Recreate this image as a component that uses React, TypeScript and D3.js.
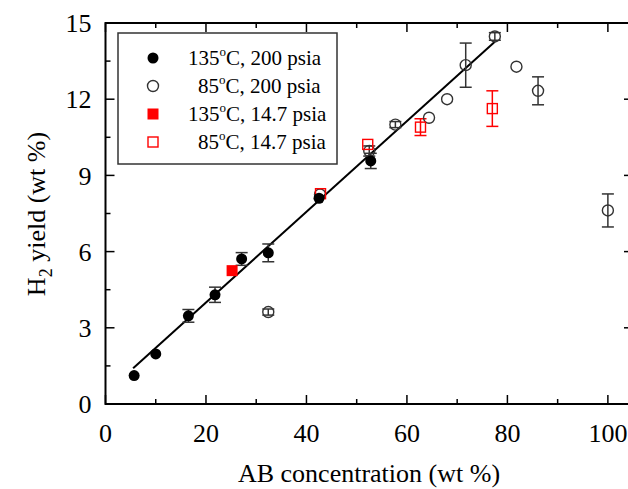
import React from "react";
import * as d3 from "d3";

// 135 C, 200 psia (filled black circles)
const hotHighX = [5.7, 10, 16.5, 21.8, 27.1, 32.4, 42.5, 52.8];
const hotHighY = [1.12, 1.97, 3.47, 4.3, 5.71, 5.95, 8.1, 9.57];
const hotHighErr = [0, 0, 0.25, 0.3, 0.25, 0.35, 0, 0.3];

// 85 C, 200 psia (open black circles)
const coldHighX = [32.4, 42.7, 52.5, 57.7, 64.4, 68, 71.7, 77.5, 81.8, 86.1, 100];
const coldHighY = [3.62, 8.25, 9.96, 11.0, 11.27, 12.0, 13.34, 14.47, 13.28, 12.33, 7.62];
const coldHighErr = [0.12, 0, 0.2, 0.12, 0, 0, 0.87, 0.15, 0, 0.55, 0.65];

// 135 C, 14.7 psia (filled red square)
const hotLowX = [25.2];
const hotLowY = [5.25];

// 85 C, 14.7 psia (open red squares)
const coldLowX = [42.8, 52.2, 62.7, 77];
const coldLowY = [8.28, 10.22, 10.9, 11.63];
const coldLowErr = [0, 0, 0.33, 0.7];

// linear fit
const fitX = [5.5, 77.5];
const fitY = [1.41, 14.26];

const xMajor = [0, 20, 40, 60, 80, 100];
const xMinor = [10, 30, 50, 70, 90];
const yMajor = [0, 3, 6, 9, 12, 15];
const yMinor = [1.5, 4.5, 7.5, 10.5, 13.5];

const legendRows = [
  { t: "135", rest: "C, 200 psia", kind: "fc" },
  { t: "85", rest: "C, 200 psia", kind: "oc" },
  { t: "135", rest: "C, 14.7 psia", kind: "fs" },
  { t: "85", rest: "C, 14.7 psia", kind: "os" },
];

const W = 628;
const H = 489;
const font = "Liberation Serif, DejaVu Serif, serif";
const grey = "#333";

const x = d3.scaleLinear().domain([0, 105]).range([105.5, 633]);
const y = d3.scaleLinear().domain([0, 15]).range([404, 23]);

function ErrBar({ cx, cy, e, color }: { cx: number; cy: number; e: number; color: string }) {
  if (!e) return null;
  const top = y(cy + e);
  const bot = y(cy - e);
  const px = x(cx);
  return (
    <g stroke={color} strokeWidth={1.5}>
      <line x1={px} x2={px} y1={top} y2={bot} />
      <line x1={px - 6} x2={px + 6} y1={top} y2={top} />
      <line x1={px - 6} x2={px + 6} y1={bot} y2={bot} />
    </g>
  );
}

function Marker({ kind, px, py }: { kind: string; px: number; py: number }) {
  if (kind === "fc") return <circle cx={px} cy={py} r={5.5} fill="#000" />;
  if (kind === "oc")
    return <circle cx={px} cy={py} r={5.5} fill="none" stroke={grey} strokeWidth={1.4} />;
  if (kind === "fs") return <rect x={px - 5.5} y={py - 5.5} width={11} height={11} fill="#f00" />;
  return (
    <rect x={px - 5} y={py - 5} width={10} height={10} fill="none" stroke="#f00" strokeWidth={1.4} />
  );
}

export default function App() {
  const line = d3
    .line<number>()
    .x((d) => x(d))
    .y((_, i) => y(fitY[i]));

  const ts = { fontFamily: font };

  return (
    <svg
      width={W}
      height={H}
      style={{ position: "absolute", left: 0, top: 0, background: "#fff" }}
    >
      {/* frame */}
      <rect x={x(0)} y={y(15)} width={x(105) - x(0)} height={y(0) - y(15)} fill="none" stroke="#000" strokeWidth={2} />

      {/* ticks */}
      <g stroke="#000" strokeWidth={1.5}>
        {xMajor.map((v) => (
          <g key={"xm" + v}>
            <line x1={x(v)} x2={x(v)} y1={y(0)} y2={y(0) - 9} />
            <line x1={x(v)} x2={x(v)} y1={y(15)} y2={y(15) + 9} />
          </g>
        ))}
        {xMinor.map((v) => (
          <g key={"xn" + v}>
            <line x1={x(v)} x2={x(v)} y1={y(0)} y2={y(0) - 5} />
            <line x1={x(v)} x2={x(v)} y1={y(15)} y2={y(15) + 5} />
          </g>
        ))}
        {yMajor.map((v) => (
          <g key={"ym" + v}>
            <line x1={x(0)} x2={x(0) + 9} y1={y(v)} y2={y(v)} />
            <line x1={x(105)} x2={x(105) - 9} y1={y(v)} y2={y(v)} />
          </g>
        ))}
        {yMinor.map((v) => (
          <g key={"yn" + v}>
            <line x1={x(0)} x2={x(0) + 5} y1={y(v)} y2={y(v)} />
            <line x1={x(105)} x2={x(105) - 5} y1={y(v)} y2={y(v)} />
          </g>
        ))}
      </g>

      {/* tick labels */}
      <g fontSize={26} fill="#000">
        {xMajor.map((v) => (
          <text key={"xl" + v} style={ts} x={x(v)} y={442} textAnchor="middle">
            {v}
          </text>
        ))}
        {yMajor.map((v) => (
          <text key={"yl" + v} style={ts} x={x(0) - 14} y={y(v)} dy="0.35em" textAnchor="end">
            {v}
          </text>
        ))}
      </g>

      {/* axis titles */}
      <text style={ts} x={369} y={482} fontSize={26} textAnchor="middle">
        AB concentration (wt %)
      </text>
      <text style={ts} transform="translate(45,214) rotate(-90)" fontSize={26} textAnchor="middle">
        H<tspan fontSize={18} dy={7}>2</tspan>
        <tspan dy={-7}> yield (wt %)</tspan>
      </text>

      {/* fit line */}
      <path d={line(fitX) || ""} fill="none" stroke="#000" strokeWidth={2} />

      {/* error bars */}
      {hotHighX.map((v, i) => (
        <ErrBar key={"e1" + i} cx={v} cy={hotHighY[i]} e={hotHighErr[i]} color={grey} />
      ))}
      {coldHighX.map((v, i) => (
        <ErrBar key={"e2" + i} cx={v} cy={coldHighY[i]} e={coldHighErr[i]} color={grey} />
      ))}
      {coldLowX.map((v, i) => (
        <ErrBar key={"e3" + i} cx={v} cy={coldLowY[i]} e={coldLowErr[i]} color="#f00" />
      ))}

      {/* markers */}
      {coldHighX.map((v, i) => (
        <Marker key={"m2" + i} kind="oc" px={x(v)} py={y(coldHighY[i])} />
      ))}
      {coldLowX.map((v, i) => (
        <Marker key={"m4" + i} kind="os" px={x(v)} py={y(coldLowY[i])} />
      ))}
      {hotHighX.map((v, i) => (
        <Marker key={"m1" + i} kind="fc" px={x(v)} py={y(hotHighY[i])} />
      ))}
      {hotLowX.map((v, i) => (
        <Marker key={"m3" + i} kind="fs" px={x(v)} py={y(hotLowY[i])} />
      ))}

      {/* legend */}
      <rect x={118} y={33} width={219} height={131} fill="#fff" stroke={grey} strokeWidth={1.5} />
      {legendRows.map((r, i) => {
        const cy = 58 + i * 28;
        return (
          <g key={"lg" + i}>
            <Marker kind={r.kind} px={153} py={cy} />
            <text style={ts} x={r.t.length === 3 ? 188 : 198} y={cy} dy="0.35em" fontSize={21}>
              {r.t}
              <tspan fontSize={13} dy={-9}>o</tspan>
              <tspan dy={9}>{r.rest}</tspan>
            </text>
          </g>
        );
      })}
    </svg>
  );
}
